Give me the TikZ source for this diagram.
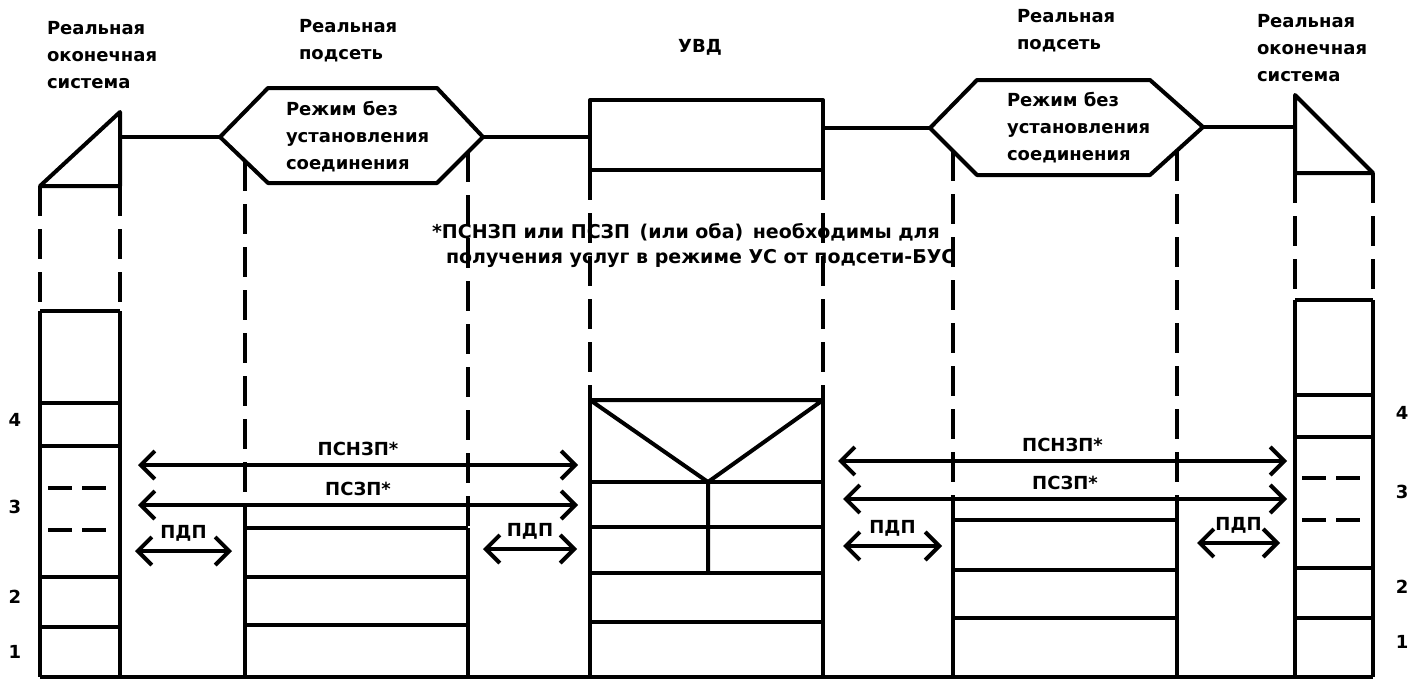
\documentclass[tikz,border=0pt]{standalone}
\usepackage{fontspec}
\setmainfont{DejaVu Sans}
\usetikzlibrary{arrows.meta}
\tikzset{osiline/.style={line width=4pt,line join=round,font=\bfseries\fontsize{18}{27}\selectfont},
  osidash/.style={dash pattern=on 30pt off 13pt},
  osiarrow/.style={{Straight Barb[length=14pt,width=28pt]}-{Straight Barb[length=14pt,width=28pt]}},
  osilabel/.style={align=left,anchor=west,inner sep=0pt}}

\begin{document}
\begin{tikzpicture}[osiline,x=1pt,y=-1pt]
\useasboundingbox (0,0) rectangle (1415,680);
% labels on top
\node[osilabel] (esl) at (45,55) {Реальная\\оконечная\\система};
\node[osilabel] (snl) at (297,41) {Реальная\\подсеть};
\node (uvd) at (700,47) {УВД};
\node[osilabel] (snr) at (1015,31) {Реальная\\подсеть};
\node[osilabel] (esr) at (1255,48) {Реальная\\оконечная\\система};
% end system, left
\coordinate (esltop) at (120,137);
\draw (40,186) -- (120,112) -- (120,186) -- cycle;
\draw[osidash] (40,186) -- (40,311) (120,186) -- (120,311);
\draw (40,311) -- (40,677) (120,311) -- (120,677);
\foreach \y in {311,403,446,577,627} \draw (40,\y) -- (120,\y);
\draw[dash pattern=on 24pt off 10pt] (48,488) -- (114,488) (48,530) -- (114,530);
\foreach \n/\y in {4/420,3/507,2/597,1/652} \node (nl\n) at (15,\y) {\n};
% subnet, left
\coordinate (hlw) at (220,137); \coordinate (hle) at (483,137);
\draw (hlw) -- (268,88) -- (437,88) -- (hle) -- (437,183) -- (268,183) -- cycle;
\node[osilabel] (modl) at (284,137) {Режим без\\установления\\соединения};
\draw[osidash] (245,161) -- (245,528) (468,152) -- (468,528);
\draw (245,528) -- (245,677) (468,528) -- (468,677);
\foreach \y in {528,577,625} \draw (245,\y) -- (468,\y);
% UVD
\coordinate (uvdw) at (590,137); \coordinate (uvde) at (823,128);
\draw (590,100) rectangle (823,170);
\draw[osidash] (590,170) -- (590,400) (823,170) -- (823,400);
\draw (590,400) -- (590,677) (823,400) -- (823,677);
\draw (590,400) -- (823,400) (590,400) -- (708,482) -- (823,400) (708,482) -- (708,573);
\foreach \y in {482,527,573,622} \draw (590,\y) -- (823,\y);
% subnet, right
\coordinate (hrw) at (930,128); \coordinate (hre) at (1203,127);
\draw (hrw) -- (977,80) -- (1150,80) -- (hre) -- (1150,175) -- (977,175) -- cycle;
\node[osilabel] (modr) at (1005,128) {Режим без\\установления\\соединения};
\draw[osidash] (953,151) -- (953,520) (1177,151) -- (1177,520);
\draw (953,520) -- (953,677) (1177,520) -- (1177,677);
\foreach \y in {520,570,618} \draw (953,\y) -- (1177,\y);
% end system, right
\coordinate (esrtop) at (1295,127);
\draw (1295,95) -- (1373,173) -- (1295,173) -- cycle;
\draw[osidash] (1295,173) -- (1295,300) (1373,173) -- (1373,300);
\draw (1295,300) -- (1295,677) (1373,300) -- (1373,677);
\foreach \y in {300,395,437,568,618} \draw (1295,\y) -- (1373,\y);
\draw[dash pattern=on 24pt off 10pt] (1302,478) -- (1368,478) (1302,520) -- (1368,520);
\foreach \n/\y in {4/413,3/492,2/587,1/642} \node (nr\n) at (1402,\y) {\n};
% links and base line
\draw (esltop) -- (hlw) (hle) -- (uvdw) (uvde) -- (hrw) (hre) -- (esrtop);
\draw (40,677) -- (1373,677);
% services
\foreach \id/\xa/\xb/\y/\txt in {psnl/138/578/465/ПСНЗП*,pszl/138/578/505/ПСЗП*,
  pdpa/135/232/551/ПДП,pdpb/483/577/549/ПДП,psnr/838/1287/461/ПСНЗП*,
  pszr/843/1287/499/ПСЗП*,pdpc/843/942/546/ПДП,pdpd/1197/1280/543/ПДП}
{\coordinate (\id w) at (\xa,\y); \coordinate (\id e) at (\xb,\y);
 \draw[osiarrow] (\id w) -- (\id e) node[midway,above=4pt] (\id) {\txt};}
\node[osilabel,font=\bfseries\fontsize{19}{25}\selectfont] (note) at (430,246)
  {*ПСНЗП или ПСЗП\enspace(или оба)\enspace необходимы для\\\hspace*{14pt}получения услуг в режиме УС от подсети-БУС};
\end{tikzpicture}
\end{document}
